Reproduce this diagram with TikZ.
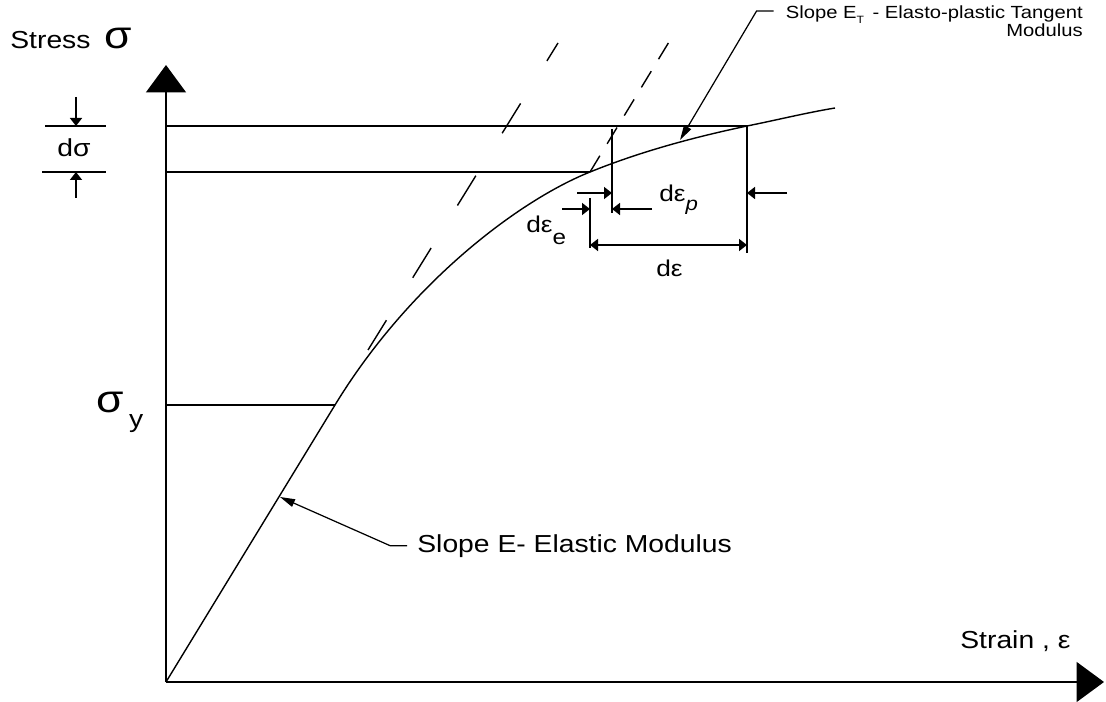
\documentclass[tikz,border=0pt]{standalone}
\usepackage{fontspec}
\setmainfont{Liberation Sans}[FakeStretch=1.15]
\usetikzlibrary{arrows.meta,positioning,calc}
\newcommand{\sz}[1]{\fontsize{#1}{1.05\dimexpr#1\relax}\selectfont}
\tikzset{
  axis/.style={line width=1.1pt, -{Triangle[length=5.5mm,width=8mm]}},
  guide/.style={line width=0.9pt},
  curve/.style={line width=0.8pt},
  elastic/.style={line width=0.8pt, dash pattern=on 0.7cm off 1cm},
  unload/.style={line width=0.8pt, dash pattern=on 0.38cm off 0.28cm},
  dimarr/.style={line width=0.9pt, -{Triangle[length=1.6mm,width=2.4mm]}},
  leader/.style={line width=0.7pt, -{Triangle[length=3mm,width=1.6mm]}},
  lbl/.style={inner sep=0pt, font=\sz{14pt}},
}

\begin{document}
\begin{tikzpicture}[x=0.02cm, y=-0.02cm]
  \useasboundingbox (0,0) rectangle (1106,702);
  % key points of the curve
  \coordinate (O) at (166,682);
  \coordinate (ytop) at (166,65);
  \coordinate (xend) at (1104,682);
  \coordinate (Y) at (335,405);
  \coordinate (A) at (590,172);
  \coordinate (B) at (747,126);
  \coordinate (C) at (835,108);
  \coordinate (P) at (612,126);

  % axes
  \draw[axis] (O) -- (ytop);
  \draw[axis] (O) -- (xend);

  % stress levels
  \draw[guide] (O |- B) -- (B);
  \draw[guide] (O |- A) -- (A);
  \draw[guide] (O |- Y) -- (Y);

  % stress-strain curve
  \draw[curve] (O) -- (Y) .. controls (410,282) and (520,200) .. (A)
    .. controls (642,151) and (695,137) .. (B) .. controls (777,120) and (805,113) .. (C);
  \draw[elastic] (368,350) -- (558,43);
  \draw[unload] (A) -- (672,37);

  % d sigma
  \draw[guide] (45,126) -- (106,126);
  \draw[guide] (42,172) -- (106,172);
  \coordinate (s1) at (76,126);
  \coordinate (s2) at (76,172);
  \draw[dimarr] ($(s1)+(0,-29)$) -- (s1);
  \draw[dimarr] ($(s2)+(0,26)$) -- (s2);
  \node[lbl, font=\sz{14pt}, anchor=base] (dsig) at (74,157) {dσ};

  % d epsilon
  \draw[guide] ($(P)+(0,3)$) -- (P |- 0,213);
  \draw[guide] ($(A)+(0,26)$) -- (A |- 0,248);
  \draw[guide] (B) -- (B |- 0,253);
  \draw[dimarr] (577,193) -- (P |- 0,193);
  \draw[dimarr] (787,193) -- (B |- 0,193);
  \draw[dimarr] (562,209) -- (A |- 0,209);
  \draw[dimarr] (652,209) -- (P |- 0,209);
  \draw[dimarr, {Triangle[length=1.6mm,width=2.4mm]}-{Triangle[length=1.6mm,width=2.4mm]}]
    (A |- 0,245) -- (B |- 0,245);
  \node[lbl, font=\sz{13pt}, anchor=base west] (dep) at (659,202) {dε\raisebox{-5pt}{\sz{11pt}\itshape p}};
  \node[lbl, font=\sz{13pt}, anchor=base west] (dee) at (526,233) {dε\raisebox{-6.5pt}{\sz{12pt}e}};
  \node[lbl, font=\sz{13pt}, anchor=base west] (de) at (656,277) {dε};

  % axis labels
  \node[lbl, anchor=base west] (stress) at (10,49) {Stress\hspace{8pt}{\sz{22pt}σ}};
  \node[lbl, anchor=base west] (strain) at (960,648) {Strain , ε};
  \node[lbl, anchor=base west] (sigy) at (96,413) {{\sz{22pt}σ}\hspace{3pt}\raisebox{-8pt}{y}};

  % slope labels
  \node[lbl, font=\sz{14pt}, anchor=base west] (elab) at (417,552) {Slope E- Elastic Modulus};
  \coordinate (etip) at (280,497);
  \draw[leader] ($(elab.west)+(-10,0)$) -- ($(elab.west)+(-27,0)$) -- (etip);
  \node[lbl, font=\sz{10pt}, align=right, anchor=north east] (etlab) at (1083,5)
    {Slope E\raisebox{-3pt}{\sz{6pt}T}\, - Elasto-plastic Tangent\\Modulus};
  \coordinate (ttip) at (680,140);
  \draw[leader] ($(etlab.north west)+(-12,6)$) -- ($(etlab.north west)+(-29,6)$) -- (ttip);
\end{tikzpicture}
\end{document}
